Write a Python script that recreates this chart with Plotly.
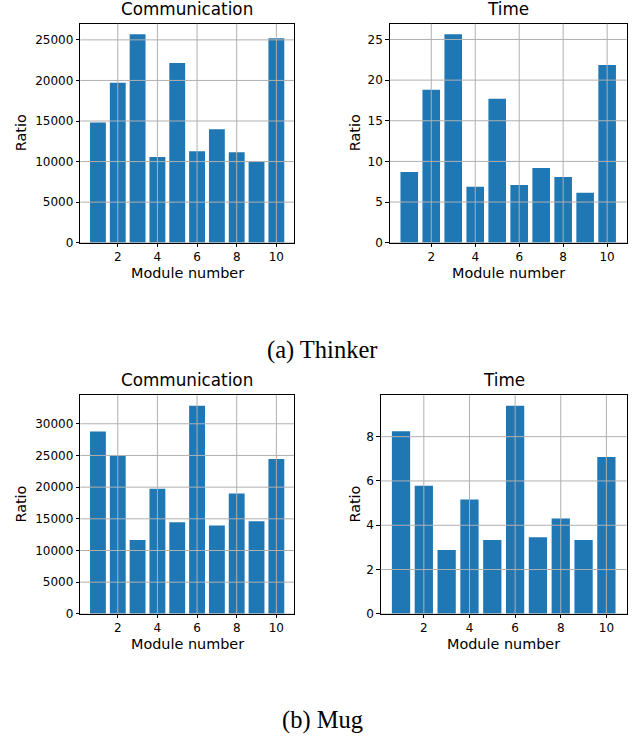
import plotly.graph_objects as go

modules = [1, 2, 3, 4, 5, 6, 7, 8, 9, 10]
thinker_comm = [14800, 19700, 25700, 10550, 22150, 11280, 13970, 11150, 9980, 25200]
thinker_time = [8.70, 18.82, 25.65, 6.87, 17.72, 7.11, 9.19, 8.09, 6.14, 21.87]
mug_comm = [28800, 24950, 11650, 19750, 14450, 32860, 13940, 18980, 14610, 24440]
mug_time = [8.24, 5.78, 2.88, 5.16, 3.33, 9.40, 3.46, 4.31, 3.33, 7.08]

x_ticks = [2, 4, 6, 8, 10]
y_ticks_tc = [0, 5000, 10000, 15000, 20000, 25000]
y_ticks_tt = [0, 5, 10, 15, 20, 25]
y_ticks_mc = [0, 5000, 10000, 15000, 20000, 25000, 30000]
y_ticks_mt = [0, 2, 4, 6, 8]

W, H = 644, 743
BLUE = "#1f77b4"
FONT = "DejaVu Sans"

# panel boxes in pixels: (x0, x1, ytop, ybottom)
panels = [
    dict(data=thinker_comm, yt=y_ticks_tc, box=(80.3, 294, 24, 245), title="Communication"),
    dict(data=thinker_time, yt=y_ticks_tt, box=(389.7, 626.7, 24, 245), title="Time"),
    dict(data=mug_comm, yt=y_ticks_mc, box=(80.3, 294, 399, 619.7), title="Communication"),
    dict(data=mug_time, yt=y_ticks_mt, box=(380.7, 626.7, 399, 619.7), title="Time"),
]

fig = go.Figure()
annotations = []
shapes = []

xmin = min(modules) - 0.4
xmax = max(modules) + 0.4
xpad = 0.05 * (xmax - xmin)
xrange_ = [xmin - xpad, xmax + xpad]

for i, p in enumerate(panels):
    n = i + 1
    xa = "x" if n == 1 else f"x{n}"
    ya = "y" if n == 1 else f"y{n}"
    xkey = "xaxis" if n == 1 else f"xaxis{n}"
    ykey = "yaxis" if n == 1 else f"yaxis{n}"
    x0, x1, yt, yb = p["box"]
    fig.add_trace(go.Bar(x=modules, y=p["data"], marker=dict(color=BLUE, line=dict(width=0)),
                         xaxis=xa, yaxis=ya, showlegend=False))
    ymax = max(p["data"]) * 1.05
    axis_common = dict(showline=True, linecolor="black", linewidth=1, mirror=True,
                       ticks="outside", ticklen=3.5, tickwidth=1, tickcolor="black",
                       showgrid=False, zeroline=False,
                       tickfont=dict(family=FONT, size=12, color="black"))
    fig.update_layout({
        xkey: dict(domain=[x0 / W, x1 / W], range=xrange_, anchor=ya,
                   tickmode="array", tickvals=x_ticks, ticktext=[str(t) for t in x_ticks],
                   ticklabelstandoff=-1, **axis_common),
        ykey: dict(domain=[1 - yb / H, 1 - yt / H], range=[0, ymax], anchor=xa,
                   tickmode="array", tickvals=p["yt"], ticktext=[str(t) for t in p["yt"]],
                   **axis_common),
    })
    # gridlines drawn above bars (as in the reference)
    for t in x_ticks:
        shapes.append(dict(type="line", xref=xa, yref=f"{ya} domain", x0=t, x1=t, y0=0, y1=1,
                           line=dict(color="#b0b0b0", width=1), layer="above"))
    for t in p["yt"]:
        shapes.append(dict(type="line", xref=f"{xa} domain", yref=ya, x0=0, x1=1, y0=t, y1=t,
                           line=dict(color="#b0b0b0", width=1), layer="above"))
    cx = (x0 + x1) / 2
    annotations.append(dict(text=p["title"], x=cx / W, y=1 - (yt - 3) / H, xref="paper", yref="paper",
                            xanchor="center", yanchor="bottom", showarrow=False,
                            font=dict(family=FONT, size=16.8, color="black")))
    annotations.append(dict(text="Module number", x=cx / W, y=1 - (yb + 30.5) / H, xref="paper", yref="paper",
                            xanchor="center", yanchor="middle", showarrow=False,
                            font=dict(family=FONT, size=14.4, color="black")))
    rx = 21 if x0 < 200 else 355
    annotations.append(dict(text="Ratio", x=rx / W, y=1 - ((yt + yb) / 2) / H, xref="paper", yref="paper",
                            xanchor="center", yanchor="middle", showarrow=False, textangle=-90,
                            font=dict(family=FONT, size=14.4, color="black")))

captions = ["(a) Thinker", "(b) Mug"]
caption_y = [353, 727]
for c, yy in zip(captions, caption_y):
    annotations.append(dict(text=c, x=322 / W, y=1 - yy / H, xref="paper", yref="paper",
                            xanchor="center", yanchor="middle", showarrow=False,
                            font=dict(family="Liberation Serif", size=24.5, color="black")))

fig.update_layout(width=W, height=H, margin=dict(l=0, r=0, t=0, b=0),
                  paper_bgcolor="white", plot_bgcolor="white", bargap=0.2,
                  annotations=annotations, shapes=shapes)
fig.write_html(
    "out.html",
    config={"displayModeBar": False},
    post_script=(
        "document.documentElement.style.margin='0';"
        "document.documentElement.style.overflow='hidden';"
        "document.body.style.margin='0';"
        "document.body.style.overflow='hidden';"
        "var g=document.getElementById('{plot_id}');"
        "g.style.position='fixed';g.style.top='0';g.style.left='0';"
    ),
)
